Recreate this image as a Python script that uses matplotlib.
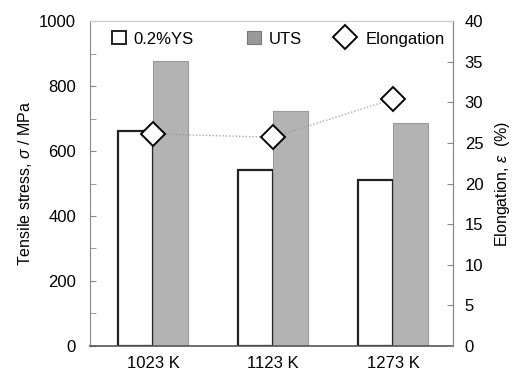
import numpy as np
import matplotlib
matplotlib.use('Agg')
import matplotlib.pyplot as plt
from matplotlib.patches import Patch
from matplotlib.lines import Line2D
from matplotlib.legend import Legend

plt.rcParams['font.family'] = ['Liberation Sans', 'DejaVu Sans']
plt.rcParams['mathtext.fontset'] = 'custom'
plt.rcParams['mathtext.it'] = 'Liberation Sans:italic'
plt.rcParams['mathtext.rm'] = 'Liberation Sans'

# data
temps = ['1023 K', '1123 K', '1273 K']
ys = [661, 541, 511]
uts = [877, 723, 686]
elong = [26.1, 25.7, 30.4]

x = np.arange(len(temps))
w = 0.29

fig = plt.figure(figsize=(5.16, 3.70), dpi=100)
ax = fig.add_axes([0.1744, 0.0649, 0.7035, 0.8783])

ax.bar(x - w / 2, ys, w, color='white', edgecolor='#222222', linewidth=1.6, zorder=2)
ax.bar(x + w / 2, uts, w, color='#b3b3b3', edgecolor='#999999', linewidth=0.8, zorder=2)

ax.set_xlim(-0.525, 2.5)
ax.set_ylim(0, 1000)
ax.set_yticks(np.arange(0, 1001, 200))
ax.set_yticks(np.arange(0, 1001, 100), minor=True)
ax.set_xticks(x)
ax.set_xticklabels(temps)
ax.tick_params(axis='x', length=0, labelsize=12, pad=7)
ax.tick_params(axis='y', which='both', direction='in', length=4, color='#888888',
               labelsize=12, pad=10)
ax.set_ylabel(r'Tensile stress, $\sigma$ / MPa', fontsize=11.5, labelpad=4)

for s in ['left', 'right']:
    ax.spines[s].set_color('#888888')
ax.spines['top'].set_color('#cccccc')
ax.spines['bottom'].set_color('#555555')
ax.spines['bottom'].set_linewidth(1.2)

ax2 = ax.twinx()
ax2.plot(x, elong, linestyle=':', color='#999999', linewidth=0.9, marker='D',
         markersize=12, markerfacecolor='white', markeredgecolor='black',
         markeredgewidth=1.4, zorder=3)
ax2.set_ylim(0, 40)
ax2.set_yticks(np.arange(0, 41, 5))
ax2.tick_params(axis='y', direction='in', length=4, color='#888888', labelsize=12, pad=8.5)
ax2.set_ylabel(r'Elongation, $\varepsilon$  (%)', fontsize=11.5, labelpad=7)
ax2.spines['right'].set_color('#888888')
ax2.spines['left'].set_visible(False)
ax2.spines['top'].set_color('#cccccc')
ax2.spines['bottom'].set_visible(False)

# legend entries placed one by one
entries = [
    (Patch(facecolor='white', edgecolor='#222222', linewidth=1.4), '0.2%YS', 0.060, 0.85, 0.45),
    (Patch(facecolor='#999999', edgecolor='#777777', linewidth=0.8), 'UTS', 0.432, 0.85, 0.45),
    (Line2D([], [], linestyle='none', marker='D', markersize=12, markerfacecolor='white',
            markeredgecolor='black', markeredgewidth=1.4), 'Elongation', 0.670, 1.4, 0.55),
]
for h, lab, fx, hl, tp in entries:
    leg = Legend(ax2, [h], [lab], frameon=False, fontsize=12, loc='center left',
                 bbox_to_anchor=(fx, 0.945), borderpad=0, borderaxespad=0,
                 handlelength=hl, handleheight=0.85, handletextpad=tp)
    ax2.add_artist(leg)

fig.savefig('out.png', dpi=100)
